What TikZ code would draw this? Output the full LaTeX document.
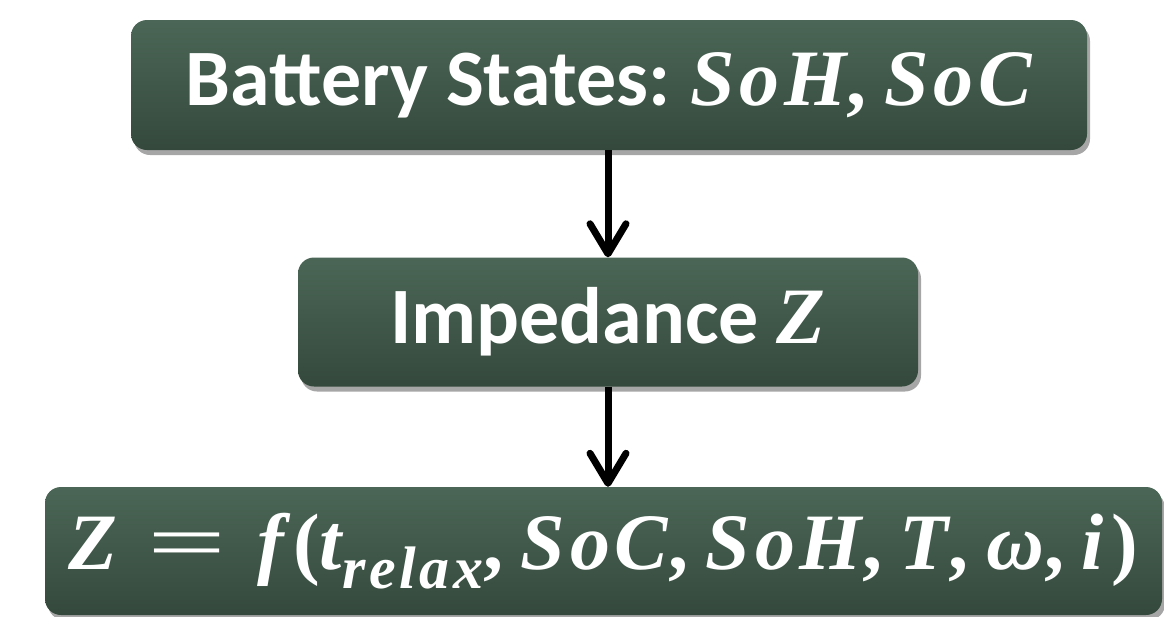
\documentclass[tikz,border=0pt]{standalone}
\usepackage{fontspec}
\usepackage{graphicx}
\setmainfont{Carlito}
\newfontfamily\mf[LetterSpace=6]{Liberation Serif}
\usetikzlibrary{arrows.meta,shadows}
\definecolor{boxtop}{RGB}{75,102,86}
\definecolor{boxbot}{RGB}{52,73,60}
\newcommand{\mv}[1]{{\mf\bfseries\itshape #1}}
\newcommand{\mr}[1]{{\mf\bfseries #1}}
\newcommand{\meq}{\hspace{0.38em}\scalebox{1.75}[1]{{\mf\mdseries =}}\hspace{0.38em}}
\newcommand{\mc}{\mr{,}\hspace{0.22em}}
\tikzset{
  gbox/.style={rounded corners=16pt, top color=boxtop, bottom color=boxbot,
    draw=none, text=white, inner sep=0pt, align=center,
    font=\bfseries\fontsize{80}{96}\selectfont,
    drop shadow={shadow xshift=3pt, shadow yshift=-5pt, opacity=0.35, fill=black}},
  conn/.style={line width=7pt, -{Straight Barb[length=30pt,width=36pt,round]}}
}
\begin{document}
\begin{tikzpicture}[x=1pt,y=-1pt]
\useasboundingbox (0,0) rectangle (1164,616);
\node[gbox, minimum width=956pt, minimum height=130pt] (states) at (609,85)
  {Battery States:\hspace{0.25em}\mv{SoH}\mc\mv{SoC}};
\node[gbox, minimum width=620pt, minimum height=129pt] (imp) at (608,322)
  {Impedance \mv{Z}};
\node[gbox, minimum width=1117pt, minimum height=128pt] (func) at (603.5,551)
  {\mv{Z}\meq\mv{f}\hspace{0.12em}\mr{(}\mv{t}\raisebox{-0.24em}{\fontsize{60}{64}\selectfont\mv{relax}}\mc\mv{SoC}\mc\mv{SoH}\mc\mv{T}\mc\mv{ω}\mc\mv{i}\hspace{0.1em}\mr{)}};
\draw[conn] (states.south -| 608,0) -- (imp.north -| 608,0);
\draw[conn] (imp.south -| 608,0) -- (func.north -| 608,0);
\end{tikzpicture}
\end{document}
